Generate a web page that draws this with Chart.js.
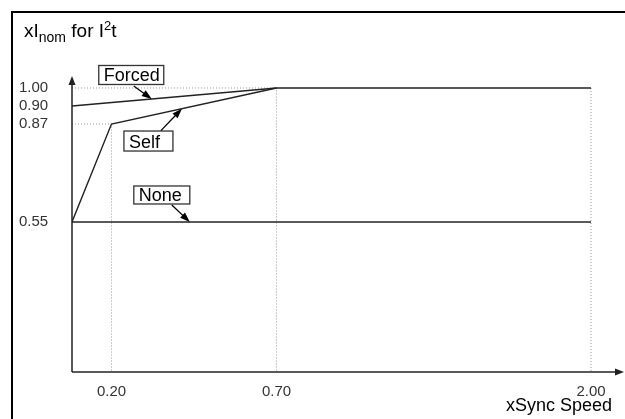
<!DOCTYPE html>
<html>
<head>
<meta charset="utf-8">
<script src="https://cdn.jsdelivr.net/npm/chart.js"></script>
<style>
  html, body { margin: 0; padding: 0; background: #fff; }
  #grafico { display: block; }
</style>
</head>
<body>
<canvas id="grafico" width="625" height="419"></canvas>
<script>
// valori
var forcedX = [0, 0.70, 2.00];
var forcedY = [0.90, 1.00, 1.00];
var selfX = [0, 0.20, 0.70];
var selfY = [0.55, 0.87, 1.00];
var noneX = [0, 2.00];
var noneY = [0.55, 0.55];

var xTicks = [0.20, 0.70, 2.00];
var yTicks = [0.55, 0.87, 0.90, 1.00];

// linee tratteggiate di riferimento
var guideX = [[0, 0.20, 0.20], [0, 0.70, 0.70], [2.00, 2.00]];
var guideY = [[0.87, 0.87, 0], [1.00, 1.00, 0], [1.00, 0]];

var seriesNames = ['Forced', 'Self', 'None'];

// asse schematico: non lineare, come nel disegno originale
var assi = {
    x: { valori: [0, 0.20, 0.70, 2.00, 2.10], frazioni: [0, 0.0731, 0.3787, 0.9611, 1] },
    y: { valori: [0, 0.55, 0.87, 0.90, 1.00, 1.05], frazioni: [0, 0.5068, 0.8378, 0.8986, 0.9595, 1] }
};

function interpola(da, a, v) {
    if (v <= da[0]) return a[0];
    for (var i = 1; i < da.length; i++) {
        if (v <= da[i]) {
            var t = (v - da[i - 1]) / (da[i] - da[i - 1]);
            return a[i - 1] + t * (a[i] - a[i - 1]);
        }
    }
    return a[a.length - 1];
}

class ScalaSchematica extends Chart.LinearScale {
    getPixelForValue(value) {
        var k = assi[this.id];
        return this.getPixelForDecimal(interpola(k.valori, k.frazioni, value));
    }
    getValueForPixel(pixel) {
        var k = assi[this.id];
        return interpola(k.frazioni, k.valori, this.getDecimalForPixel(pixel));
    }
}
ScalaSchematica.id = 'schematic';
ScalaSchematica.defaults = Chart.LinearScale.defaults;
Chart.register(ScalaSchematica);

function punti(xs, ys) {
    var out = [];
    for (var i = 0; i < xs.length; i++) {
        out.push({ x: xs[i], y: ys[i] });
    }
    return out;
}

var FONT = "'Liberation Sans', Arial, sans-serif";

var datasets = [
    { data: punti(forcedX, forcedY), borderColor: '#222', borderWidth: 1.4 },
    { data: punti(selfX, selfY), borderColor: '#222', borderWidth: 1.4 },
    { data: punti(noneX, noneY), borderColor: '#222', borderWidth: 1.4 }
];
for (var g = 0; g < guideX.length; g++) {
    datasets.push({
        data: punti(guideX[g], guideY[g]),
        borderColor: '#999',
        borderWidth: 1,
        borderDash: [1, 2]
    });
}

// etichette con freccia: serie, segmento, posizione sul segmento, box e partenza freccia relativi alla punta
var etichette = [
    { serie: 0, seg: 0, t: 0.39, dx: -20.5, dy: -24, w: 65, h: 19, sx: -18, sy: -13 },
    { serie: 1, seg: 1, t: 0.427, dx: -33.5, dy: 32.4, w: 49, h: 20, sx: -21, sy: 22 },
    { serie: 2, seg: 0, t: 0.227, dx: -28, dy: -27, w: 56, h: 18, sx: -18, sy: -17 }
];
var serieX = [forcedX, selfX, noneX];
var serieY = [forcedY, selfY, noneY];

function freccia(ctx, x0, y0, x1, y1, lung, mezza) {
    var ang = Math.atan2(y1 - y0, x1 - x0);
    ctx.beginPath();
    ctx.moveTo(x0, y0);
    ctx.lineTo(x1 - Math.cos(ang) * lung * 0.6, y1 - Math.sin(ang) * lung * 0.6);
    ctx.stroke();
    ctx.beginPath();
    ctx.moveTo(x1, y1);
    ctx.lineTo(x1 - Math.cos(ang) * lung - Math.sin(ang) * mezza, y1 - Math.sin(ang) * lung + Math.cos(ang) * mezza);
    ctx.lineTo(x1 - Math.cos(ang) * lung + Math.sin(ang) * mezza, y1 - Math.sin(ang) * lung - Math.cos(ang) * mezza);
    ctx.closePath();
    ctx.fill();
}

var decorazioni = {
    id: 'decorazioni',
    afterDatasetsDraw: function(chart) {
        var ctx = chart.ctx;
        var area = chart.chartArea;
        var sx = chart.scales.x, sy = chart.scales.y;
        ctx.save();

        // cornice
        ctx.fillStyle = '#000';
        ctx.fillRect(11, 11, 614, 2);
        ctx.fillRect(11, 11, 2, 408);

        // assi con frecce
        ctx.strokeStyle = '#222';
        ctx.fillStyle = '#222';
        ctx.lineWidth = 1.5;
        freccia(ctx, area.left, area.bottom, area.left, area.top, 9, 3.5);
        freccia(ctx, area.left, area.bottom, area.right + 12, area.bottom, 9, 3.5);

        // titolo asse y con pedice e apice
        ctx.fillStyle = '#000';
        ctx.textBaseline = 'alphabetic';
        ctx.textAlign = 'left';
        var x = 24;
        ctx.font = '19px ' + FONT;
        ctx.fillText('xI', x, 37); x += ctx.measureText('xI').width;
        ctx.font = '14px ' + FONT;
        ctx.fillText('nom', x, 42); x += ctx.measureText('nom').width;
        ctx.font = '19px ' + FONT;
        ctx.fillText(' for I', x, 37); x += ctx.measureText(' for I').width;
        ctx.font = '13px ' + FONT;
        ctx.fillText('2', x, 30); x += ctx.measureText('2').width;
        ctx.font = '19px ' + FONT;
        ctx.fillText('t', x, 37);

        // etichette delle serie
        etichette.forEach(function(e) {
            var xs = serieX[e.serie], ys = serieY[e.serie];
            var p0x = sx.getPixelForValue(xs[e.seg]), p0y = sy.getPixelForValue(ys[e.seg]);
            var p1x = sx.getPixelForValue(xs[e.seg + 1]), p1y = sy.getPixelForValue(ys[e.seg + 1]);
            var tx = p0x + e.t * (p1x - p0x), ty = p0y + e.t * (p1y - p0y);
            var cx = tx + e.dx, cy = ty + e.dy;
            ctx.fillStyle = '#fff';
            ctx.fillRect(cx - e.w / 2, cy - e.h / 2, e.w, e.h);
            ctx.strokeStyle = '#333';
            ctx.lineWidth = 1.3;
            ctx.strokeRect(cx - e.w / 2, cy - e.h / 2, e.w, e.h);
            ctx.fillStyle = '#000';
            ctx.font = '18px ' + FONT;
            ctx.fillText(seriesNames[e.serie], cx - e.w / 2 + 5, cy + 6.5);
            ctx.strokeStyle = '#000';
            ctx.fillStyle = '#000';
            ctx.lineWidth = 1.3;
            freccia(ctx, tx + e.sx, ty + e.sy, tx, ty, 10, 3.5);
        });
        ctx.restore();
    }
};

var chart = new Chart(document.getElementById('grafico'), {
    type: 'line',
    data: { datasets: datasets },
    options: {
        responsive: false,
        animation: false,
        devicePixelRatio: 1,
        layout: { padding: { left: 19, top: 76, right: 13, bottom: 0 } },
        elements: {
            point: { radius: 0 },
            line: { tension: 0, fill: false }
        },
        plugins: {
            legend: { display: false },
            tooltip: { enabled: false }
        },
        scales: {
            x: {
                type: 'schematic',
                min: 0,
                max: 2.10,
                grid: { display: false, drawTicks: false },
                border: { display: false },
                afterBuildTicks: function(scale) {
                    scale.ticks = xTicks.map(function(v) { return { value: v }; });
                },
                afterFit: function(scale) { scale.height = 47; },
                ticks: {
                    padding: 11,
                    maxRotation: 0,
                    autoSkip: false,
                    color: '#333',
                    font: { family: FONT, size: 15 },
                    callback: function(v) { return Number(v).toFixed(2); }
                },
                title: {
                    display: true,
                    text: 'xSync Speed',
                    align: 'end',
                    color: '#000',
                    font: { family: FONT, size: 18 },
                    padding: { top: 0, bottom: 2 }
                }
            },
            y: {
                type: 'schematic',
                min: 0,
                max: 1.05,
                grid: { display: false, drawTicks: false },
                border: { display: false },
                afterBuildTicks: function(scale) {
                    scale.ticks = yTicks.map(function(v) { return { value: v }; });
                },
                afterFit: function(scale) { scale.width = 53; },
                ticks: {
                    crossAlign: 'far',
                    autoSkip: false,
                    color: '#333',
                    font: { family: FONT, size: 15 },
                    callback: function(v) { return Number(v).toFixed(2); }
                }
            }
        }
    },
    plugins: [decorazioni]
});
</script>
</body>
</html>
